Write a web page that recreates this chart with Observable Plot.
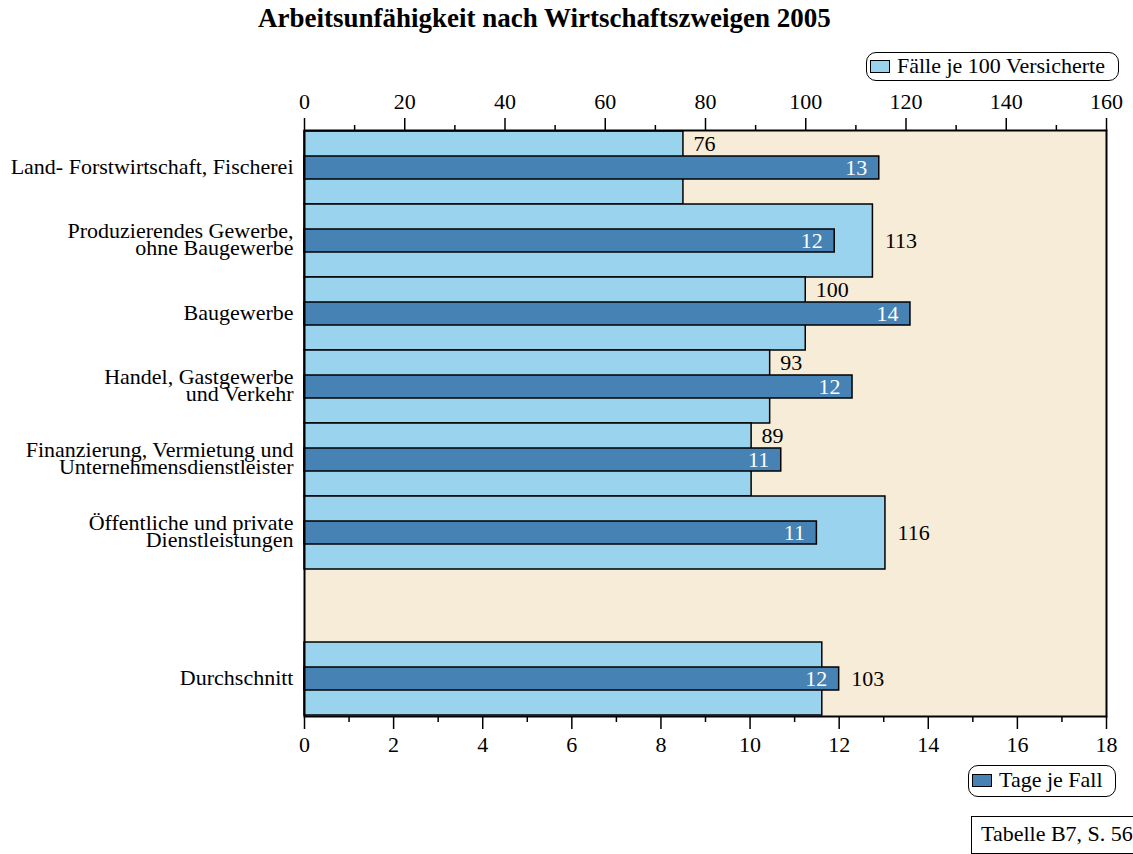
<!DOCTYPE html>
<html><head><meta charset="utf-8">
<script src="https://cdn.jsdelivr.net/npm/d3@7"></script>
<script src="https://cdn.jsdelivr.net/npm/@observablehq/plot@0.6"></script>
<style>
body{margin:0;background:#fff;font-family:"Liberation Serif","Times New Roman",serif;color:#000;}
#wrap{position:relative;width:1133px;height:854px;overflow:hidden;}
#chart{position:absolute;left:0;top:0;}
#title{position:absolute;left:258px;top:3px;font-weight:bold;font-size:27px;line-height:30px;white-space:nowrap;}
.legend{position:absolute;box-sizing:border-box;border:1.5px solid #000;border-radius:10px;font-size:22px;padding-left:3px;white-space:nowrap;background:#fff;}
.sw{display:inline-block;width:18px;height:11px;border:1.5px solid #000;vertical-align:0px;margin-right:7px;}
#leg1{left:866px;top:52px;width:253px;height:29px;line-height:25px;}
#leg2{left:968px;top:765px;width:148px;height:32px;line-height:28px;}
#src{position:absolute;box-sizing:border-box;left:971px;top:816px;width:170px;height:38px;border:1.5px solid #000;font-size:22px;line-height:34px;padding-left:9px;white-space:nowrap;background:#fff;}
</style></head><body>
<div id="wrap">
<div id="title">Arbeitsunfähigkeit nach Wirtschaftszweigen 2005</div>
<div id="chart"></div>
<div class="legend" id="leg1"><span class="sw" style="background:#99D3EE"></span>Fälle je 100 Versicherte</div>
<div class="legend" id="leg2"><span class="sw" style="background:#4682B4"></span>Tage je Fall</div>
<div id="src">Tabelle B7, S. 56</div>
</div>
<script>
const categories = [
  "Land- Forstwirtschaft, Fischerei",
  "Produzierendes Gewerbe,\nohne Baugewerbe",
  "Baugewerbe",
  "Handel, Gastgewerbe\nund Verkehr",
  "Finanzierung, Vermietung und\nUnternehmensdienstleister",
  "Öffentliche und private\nDienstleistungen",
  "Durchschnitt"
];
const faelle = [75.6, 113.4, 100.0, 92.9, 89.2, 115.9, 103.3];
const tage = [12.9, 11.9, 13.6, 12.3, 10.7, 11.5, 12.0];
const faelleLabels = [76, 113, 100, 93, 89, 116, 103];
const tageLabels = [13, 12, 14, 12, 11, 11, 12];
const faelleTicks = d3.range(0, 161, 20);
const faelleMinor = d3.range(10, 161, 20);
const tageTicks = d3.range(0, 19, 2);
const tageMinor = d3.range(1, 19, 2);
const faelleMax = 160, tageMax = 18;

const k = faelleMax / tageMax;
const gap = "\u2009";
const yDomain = [...categories.slice(0, 6), gap, categories[6]];
const rows = categories.map((c, i) => ({
  cat: c, faelle: faelle[i], tageX: tage[i] * k, fl: faelleLabels[i], tl: tageLabels[i]
}));
const midRows = rows.filter(r => r.faelle >= r.tageX - 4);
const topRows = rows.filter(r => r.faelle < r.tageX - 4);

const LIGHT = "#99D3EE", DARK = "#4682B4", BG = "#F7ECD8";
const FS = 22;

const chart = Plot.plot({
  width: 1133, height: 854,
  marginTop: 130, marginBottom: 138, marginLeft: 304, marginRight: 27,
  style: {fontFamily: '"Liberation Serif","Times New Roman",serif', fontSize: FS + "px", color: "#000", background: "transparent"},
  x: {domain: [0, faelleMax], label: null},
  y: {domain: yDomain, padding: 0, label: null},
  marks: [
    Plot.frame({fill: BG}),
    Plot.barX(rows, {x: "faelle", y: "cat", fill: LIGHT, stroke: "#000", strokeWidth: 1.5}),
    Plot.barX(rows, {x: "tageX", y: "cat", fill: DARK, stroke: "#000", strokeWidth: 1.5, insetTop: 25, insetBottom: 25}),
    Plot.text(rows, {x: "tageX", y: "cat", text: "tl", fill: "white", textAnchor: "end", dx: -12, fontSize: FS}),
    Plot.text(midRows, {x: r => Math.max(r.faelle, r.tageX), y: "cat", text: "fl", textAnchor: "start", dx: 12, fontSize: FS}),
    Plot.text(topRows, {x: "faelle", y: "cat", text: "fl", textAnchor: "start", dx: 10, dy: -24, fontSize: FS}),
    Plot.frame({stroke: "#000", strokeWidth: 2}),
    Plot.axisX(faelleTicks, {anchor: "top", tickSize: 13, tickPadding: 9, strokeWidth: 1.5, fontSize: FS}),
    Plot.axisX(faelleMinor, {anchor: "top", tickSize: 6, tickFormat: () => "", strokeWidth: 1.5}),
    Plot.axisX(tageTicks.map(t => t * k), {anchor: "bottom", tickSize: 13, tickPadding: 7, strokeWidth: 1.5, fontSize: FS, tickFormat: d => String(Math.round(d / k))}),
    Plot.axisX(tageMinor.map(t => t * k), {anchor: "bottom", tickSize: 6, tickFormat: () => "", strokeWidth: 1.5}),
    Plot.axisY(categories, {tickSize: 0, tickPadding: 11, fontSize: FS, lineHeight: 0.8})
  ]
});
document.getElementById("chart").appendChild(chart);
</script>
</body></html>
